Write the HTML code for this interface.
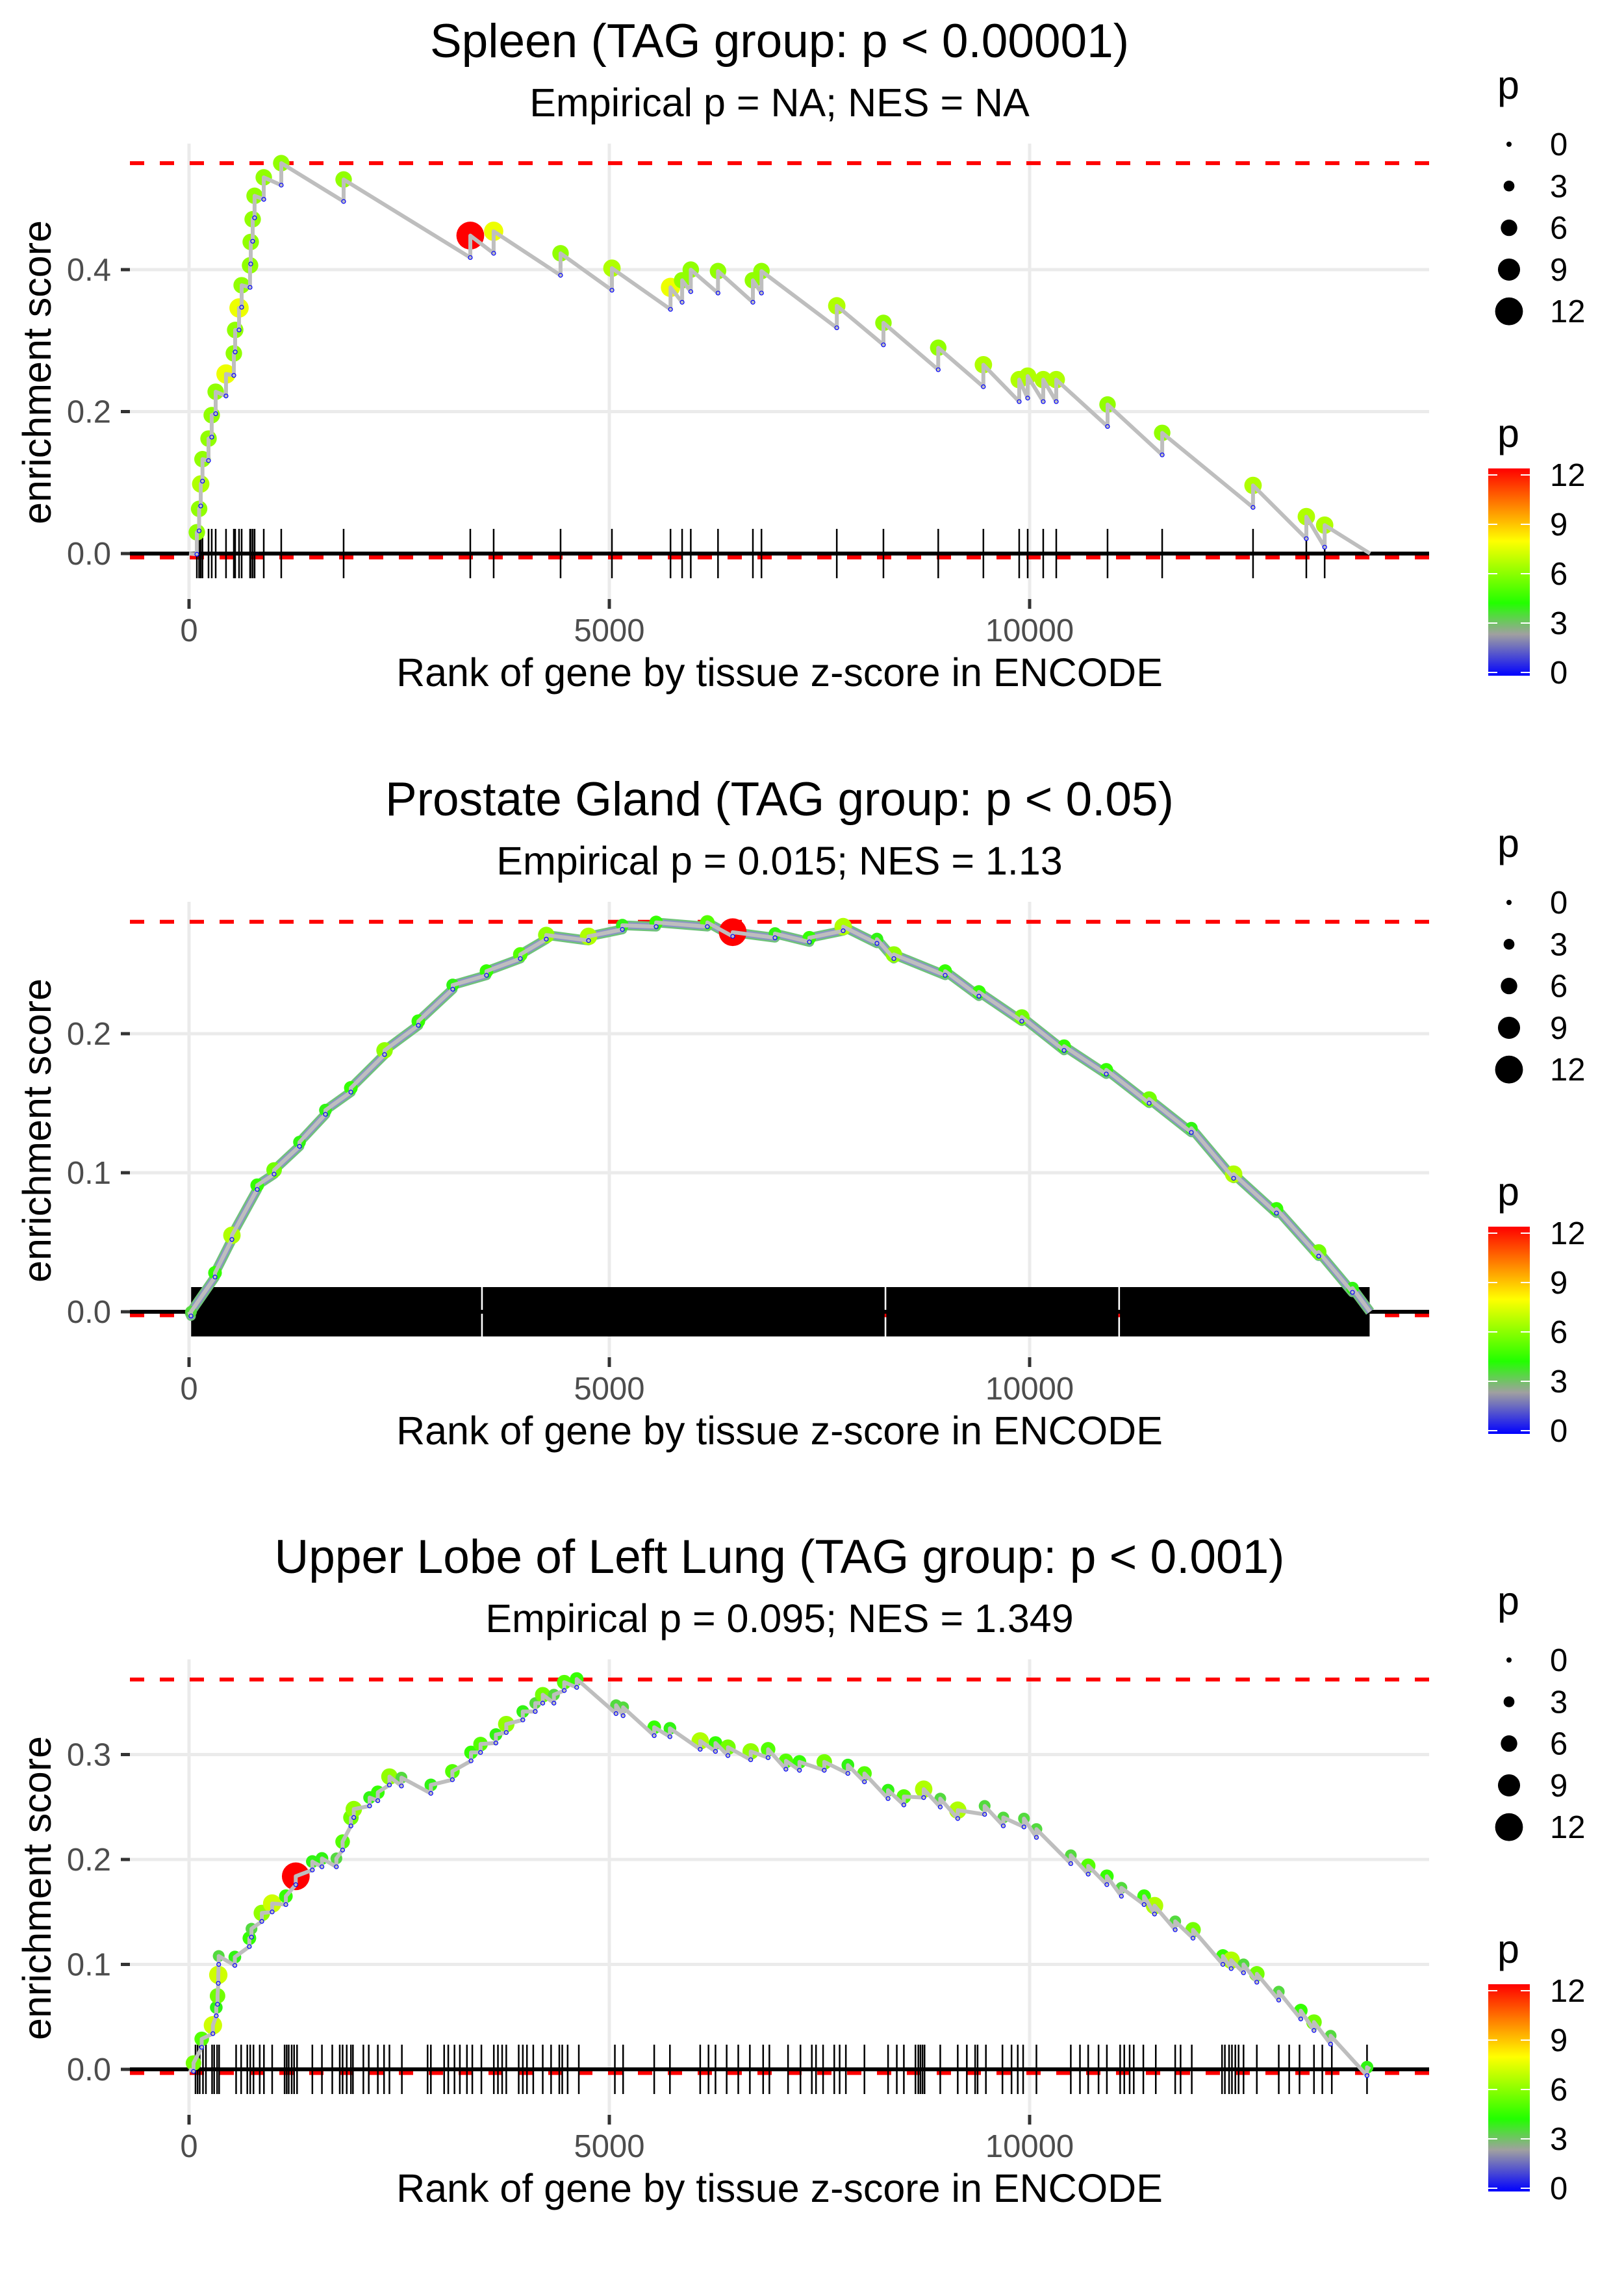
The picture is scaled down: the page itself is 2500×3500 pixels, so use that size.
<!DOCTYPE html>
<html><head><meta charset="utf-8"><title>Enrichment plots</title>
<style>html,body{margin:0;padding:0;background:#fff}svg{display:block}text{font-family:"Liberation Sans",Arial,sans-serif}</style>
</head><body>
<svg id="chart" xmlns="http://www.w3.org/2000/svg" width="2500" height="3500" viewBox="0 0 2500 3500"></svg>
<script>
// ---------- Panel 1: Spleen ----------
const p1Title = "Spleen (TAG group: p < 0.00001)";
const p1Subtitle = "Empirical p = NA; NES = NA";
const p1Ticks = [0, 0.2, 0.4];
const p1TickLabels = ["0.0", "0.2", "0.4"];
const p1Rank = [93,120,139,160,232,270,317,440,533,549,595,626,726,734,757,780,889,1097,1839,3346,3624,4420,5031,5728,5866,5969,6293,6708,6810,7706,8261,8913,9450,9876,9977,10162,10317,10927,11577,12658,13292,13510];
const p1Top = [0.030,0.063,0.098,0.133,0.162,0.195,0.228,0.253,0.282,0.315,0.346,0.378,0.406,0.439,0.471,0.504,0.530,0.550,0.527,0.448,0.454,0.423,0.402,0.375,0.385,0.400,0.398,0.385,0.398,0.349,0.325,0.290,0.266,0.245,0.250,0.245,0.245,0.210,0.170,0.096,0.052,0.040];
const p1P = [6,6,6.5,6,6,6,6,7.5,6,6,7.5,6,6,6,6,6,6,6,6,12,7.5,6,6.5,7.5,6,6,6,6,6,6.5,6,6,6.5,6.5,6.5,6.5,6.5,6,6,6.5,6.5,6.5];
const p1Rug = p1Rank;
const p1Jump = 0.031;
const p1Max = 0.550, p1Min = -0.0055, p1End = 14050;

// ---------- Panel 2: Prostate Gland ----------
const p2Title = "Prostate Gland (TAG group: p < 0.05)";
const p2Subtitle = "Empirical p = 0.015; NES = 1.13";
const p2Ticks = [0, 0.1, 0.2];
const p2TickLabels = ["0.0", "0.1", "0.2"];
const p2Rank = [23,309,510,811,1012,1314,1623,1925,2326,2728,3137,3539,3941,4250,4753,5155,5557,6166,6468,6971,7380,7782,8184,8385,8995,9397,9907,10410,10912,11422,11924,12427,12937,13439,13841];
const p2Top = [0.000,0.028,0.055,0.091,0.102,0.122,0.145,0.161,0.188,0.209,0.235,0.245,0.257,0.271,0.270,0.278,0.280,0.280,0.273,0.272,0.269,0.277,0.268,0.257,0.245,0.230,0.212,0.191,0.174,0.153,0.132,0.099,0.074,0.043,0.017];
const p2P = [3.5,4.5,6.5,4.5,5.5,4,4,4.5,6,4.5,4,4.5,5,6,6.5,4,4.5,5,12,4,4.5,6.5,4,6,4.5,4.5,5.5,4.5,4.5,5.5,4,6.5,4.5,5.5,4];
const p2RugBands = [[25,3475],[3495,8275],[8295,11055],[11075,14045]];
const p2Jump = 0.003;
const p2Max = 0.2805, p2Min = -0.0025, p2End = 14050;

// ---------- Panel 3: Upper Lobe of Left Lung ----------
const p3Title = "Upper Lobe of Left Lung (TAG group: p < 0.001)";
const p3Subtitle = "Empirical p = 0.095; NES = 1.349";
const p3Ticks = [0, 0.1, 0.2, 0.3];
const p3TickLabels = ["0.0", "0.1", "0.2", "0.3"];
const p3Rank = [53,151,284,324,339,348,353,545,718,743,866,989,1152,1270,1467,1581,1753,1827,1926,1960,2148,2246,2384,2527,2877,3133,3355,3468,3651,3774,3971,4119,4208,4341,4464,4612,5080,5164,5534,5721,6081,6263,6411,6682,6889,7101,7262,7557,7838,8035,8316,8504,8740,8937,9145,9465,9687,9933,10081,10490,10697,10919,11092,11362,11486,11732,11944,12299,12398,12545,12703,12964,13226,13383,13581,14014];
const p3Top = [0.006,0.029,0.042,0.059,0.070,0.090,0.108,0.107,0.125,0.134,0.149,0.158,0.165,0.184,0.198,0.201,0.201,0.217,0.240,0.248,0.259,0.264,0.279,0.278,0.271,0.284,0.302,0.310,0.319,0.329,0.341,0.349,0.357,0.357,0.369,0.372,0.347,0.345,0.326,0.325,0.313,0.311,0.307,0.303,0.305,0.294,0.293,0.293,0.290,0.282,0.266,0.260,0.267,0.258,0.247,0.251,0.240,0.239,0.229,0.204,0.194,0.184,0.173,0.165,0.156,0.141,0.133,0.108,0.104,0.100,0.091,0.074,0.056,0.045,0.032,0.002];
const p3P = [5.5,5,7,4,5.5,7,3.5,4,4.5,3.5,6,7,4.5,12,4,4,3.5,5,5.5,6,4,4.5,6,3.5,4,5,4.5,5,4,6,4,3.5,5.5,3.5,5,4.5,3.5,3.5,4.5,4,6.5,4.5,5.5,6,5,5,4.5,5.5,4,5,4,5,6.5,3.5,6.5,3.5,3.5,3.5,3.5,3.5,5,4.5,3.5,4.5,6.5,3.5,5.5,4.5,6.5,3.5,5.5,3.5,4.5,5.5,3.5,4];
const p3Rug = [77,102,127,166,201,274,299,334,358,560,620,693,728,767,841,891,989,1137,1162,1186,1221,1250,1285,1467,1581,1704,1793,1827,1876,1926,1950,2074,2138,2246,2320,2384,2532,2838,2877,3035,3084,3158,3222,3306,3370,3478,3626,3675,3725,3774,3922,3971,4020,4095,4208,4307,4405,4440,4504,4637,5066,5164,5534,5721,6081,6180,6263,6396,6534,6672,6830,6904,7126,7274,7409,7459,7543,7676,7740,7814,8035,8316,8420,8504,8642,8676,8701,8726,8750,8937,9145,9253,9352,9381,9480,9677,9785,9859,9923,10081,10490,10599,10697,10820,10919,11077,11126,11190,11239,11353,11501,11732,11796,11929,12289,12323,12373,12407,12447,12486,12545,12703,12964,13088,13211,13383,13482,13595,14014];
const p3Jump = 0.008;
const p3Max = 0.3715, p3Min = -0.0035, p3End = 14050;

const xTicks = [0, 5000, 10000];
const legendSizes = [0, 3, 6, 9, 12];

// ---------- helpers ----------
const NS = "http://www.w3.org/2000/svg";
const svg = document.getElementById("chart");
function mk(tag, attrs, parent) {
  const e = document.createElementNS(NS, tag);
  for (const k in attrs) e.setAttribute(k, attrs[k]);
  (parent || svg).appendChild(e);
  return e;
}
const stops = [[0, [0,0,255]], [0.2, [160,160,160]], [0.35, [34,255,0]], [0.65, [255,255,0]], [1, [255,0,0]]];
function colorOf(p) {
  const t = Math.max(0, Math.min(1, p / 12));
  for (let i = 1; i < stops.length; i++) {
    if (t <= stops[i][0]) {
      const a = stops[i-1], b = stops[i], f = (t - a[0]) / (b[0] - a[0]);
      const c = a[1].map((v, j) => Math.round(v + (b[1][j] - v) * f));
      return "rgb(" + c.join(",") + ")";
    }
  }
  return "rgb(255,0,0)";
}
function radiusOf(p) { return 4 + 1.45 * p; }
const X0 = 291, XS = 0.1294, PL = 200, PR = 2200;
function xOf(r) { return X0 + r * XS; }

function drawPanel(o, cfg) {
  const g = mk("g", {});
  
  
  const yOf = v => o + 852 - v * cfg.yScale;
  const top = o + 221, bot = o + 925;
  xTicks.forEach(t => {
    const l = mk("line", {x1: xOf(t), x2: xOf(t), y1: top, y2: bot, stroke: "#EBEBEB", "stroke-width": 5}, g);
    
    
  });
  cfg.ticks.forEach(t => {
    const l = mk("line", {x1: PL, x2: PR, y1: yOf(t), y2: yOf(t), stroke: "#EBEBEB", "stroke-width": 5}, g);
    
    
  });
  cfg.ticks.forEach((t, i) => {
    const tk = mk("line", {x1: 186, x2: 200, y1: yOf(t), y2: yOf(t), stroke: "#333", "stroke-width": 5}, g);
    
    
    const tx = mk("text", {x: 171, y: yOf(t) + 17, "text-anchor": "end", "font-size": 49, fill: "#4D4D4D"}, g);
    tx.textContent = cfg.tickLabels[i];
    
    
  });
  xTicks.forEach(t => {
    const tk = mk("line", {x1: xOf(t), x2: xOf(t), y1: o + 922, y2: o + 937, stroke: "#333", "stroke-width": 5}, g);
    
    
    const tx = mk("text", {x: xOf(t), y: o + 987, "text-anchor": "middle", "font-size": 49, fill: "#4D4D4D"}, g);
    tx.textContent = String(t);
    
    
  });
  [cfg.max, cfg.min].forEach((v, i) => {
    const l = mk("line", {x1: PL, x2: PR, y1: yOf(v), y2: yOf(v), stroke: "#FF0000", "stroke-width": 6, "stroke-dasharray": "22 24"}, g);
    
    
  });
  const z = mk("line", {x1: PL, x2: PR, y1: yOf(0), y2: yOf(0), stroke: "#000", "stroke-width": 6}, g);
  
  
  if (cfg.rug) cfg.rug.forEach(r => {
    const l = mk("line", {x1: xOf(r), x2: xOf(r), y1: yOf(0) - 38, y2: yOf(0) + 38, stroke: "#000", "stroke-width": 2.5}, g);
    
    
  });
  if (cfg.rugBands) cfg.rugBands.forEach(b => {
    const r = mk("rect", {x: xOf(b[0]), y: yOf(0) - 38, width: xOf(b[1]) - xOf(b[0]), height: 76, fill: "#000"}, g);
    
    
  });
  let d = "M" + xOf(0) + " " + yOf(0);
  cfg.rank.forEach((r, i) => {
    d += " L" + xOf(r).toFixed(1) + " " + yOf(cfg.top[i] - cfg.jump).toFixed(1);
    d += " L" + xOf(r).toFixed(1) + " " + yOf(cfg.top[i]).toFixed(1);
  });
  d += " L" + xOf(cfg.end) + " " + yOf(0);
  if (cfg.halo) {
    const h = mk("path", {d: d, fill: "none", stroke: "#6fc27a", "stroke-width": 15, "stroke-linejoin": "round"}, g);
    
    
    const h2 = mk("path", {d: d, fill: "none", stroke: "#8a93c4", "stroke-width": 10, "stroke-linejoin": "round"}, g);
    
    
  }
  cfg.rank.forEach((r, i) => {
    const c = mk("circle", {cx: xOf(r), cy: yOf(cfg.top[i]), r: radiusOf(cfg.p[i]), fill: colorOf(cfg.p[i])}, g);
    
    
  });
  const line = mk("path", {d: d, fill: "none", stroke: "#BEBEBE", "stroke-width": 6, "stroke-linejoin": "round"}, g);
  
  
  cfg.rank.forEach((r, i) => {
    const c = mk("circle", {cx: xOf(r), cy: yOf(cfg.top[i] - cfg.jump), r: 3, fill: "#BEBEBE", stroke: "#0000FF", "stroke-width": 1.2}, g);
    
    
  });
  const t1 = mk("text", {x: 1200, y: o + 88, "text-anchor": "middle", "font-size": 73, fill: "#000"}, g);
  t1.textContent = cfg.title;
  
  
  const t2 = mk("text", {x: 1200, y: o + 179, "text-anchor": "middle", "font-size": 61, fill: "#000"}, g);
  t2.textContent = cfg.subtitle;
  
  
  const xt = mk("text", {x: 1200, y: o + 1056, "text-anchor": "middle", "font-size": 61, fill: "#000"}, g);
  xt.textContent = "Rank of gene by tissue z-score in ENCODE";
  
  
  const yt = mk("text", {x: 0, y: 0, "text-anchor": "middle", "font-size": 61, fill: "#000", transform: "translate(78," + (o + 573) + ") rotate(-90)"}, g);
  yt.textContent = "enrichment score";
  
  
  const lt = mk("text", {x: 2305, y: o + 152, "font-size": 61, fill: "#000"}, g);
  lt.textContent = "p";
  
  
  legendSizes.forEach((s, i) => {
    const cy = o + 222 + i * 64.3;
    const c = mk("circle", {cx: 2323, cy: cy, r: radiusOf(s), fill: "#000"}, g);
    
    
    const tx = mk("text", {x: 2386, y: cy + 17, "font-size": 49, fill: "#000"}, g);
    tx.textContent = String(s);
    
    
  });
  const ct = mk("text", {x: 2305, y: o + 688, "font-size": 61, fill: "#000"}, g);
  ct.textContent = "p";
  
  
  const bar = mk("rect", {x: 2291, y: o + 721, width: 64, height: 319, fill: "url(#cbar)"}, g);
  
  
  legendSizes.forEach(s => {
    const yy = o + 1035 - s / 12 * 304;
    mk("line", {x1: 2291, x2: 2305, y1: yy, y2: yy, stroke: "#fff", "stroke-width": 2}, g);
    mk("line", {x1: 2341, x2: 2355, y1: yy, y2: yy, stroke: "#fff", "stroke-width": 2}, g);
    const tx = mk("text", {x: 2386, y: yy + 17, "font-size": 49, fill: "#000"}, g);
    tx.textContent = String(s);
    
    
  });
}

const defs = mk("defs", {});
const lg = mk("linearGradient", {id: "cbar", x1: 0, y1: 1, x2: 0, y2: 0}, defs);
[[0,"#0000FF"],[0.2,"#A0A0A0"],[0.35,"#22FF00"],[0.65,"#FFFF00"],[1,"#FF0000"]].forEach(s => {
  mk("stop", {offset: s[0], "stop-color": s[1]}, lg);
});

drawPanel(0, {name: "spleen-panel", title: p1Title, subtitle: p1Subtitle, ticks: p1Ticks, tickLabels: p1TickLabels, yScale: 1092.5,
  rank: p1Rank, top: p1Top, p: p1P, rug: p1Rug, jump: p1Jump, max: p1Max, min: p1Min, end: p1End});
drawPanel(1167, {name: "prostate-panel", title: p2Title, subtitle: p2Subtitle, ticks: p2Ticks, tickLabels: p2TickLabels, yScale: 2140,
  rank: p2Rank, top: p2Top, p: p2P, rugBands: p2RugBands, jump: p2Jump, max: p2Max, min: p2Min, end: p2End, halo: true});
drawPanel(2333, {name: "lung-panel", title: p3Title, subtitle: p3Subtitle, ticks: p3Ticks, tickLabels: p3TickLabels, yScale: 1615,
  rank: p3Rank, top: p3Top, p: p3P, rug: p3Rug, jump: p3Jump, max: p3Max, min: p3Min, end: p3End});
</script>
</body></html>
